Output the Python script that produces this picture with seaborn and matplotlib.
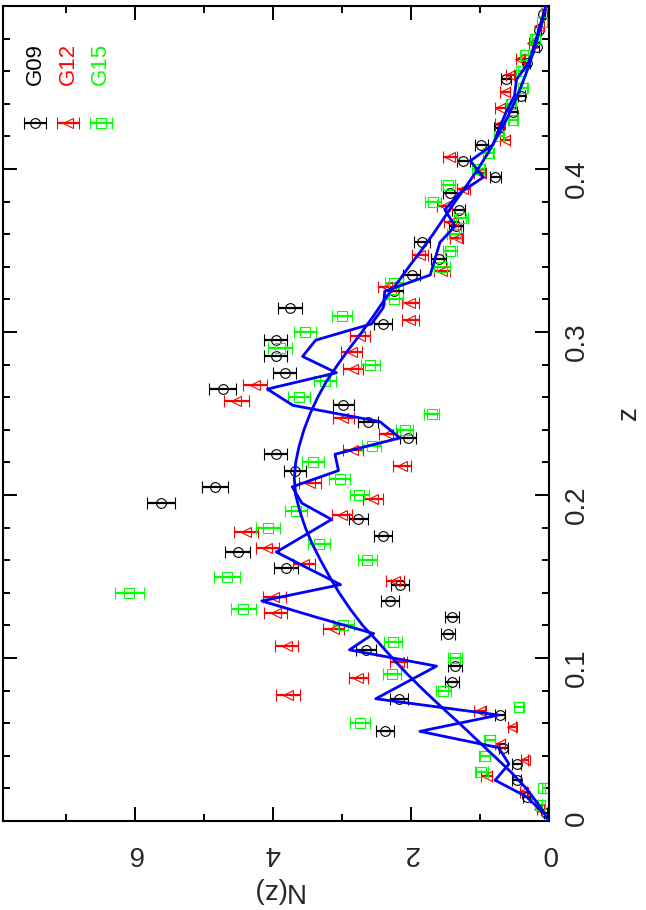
import numpy as np
import pandas as pd
import matplotlib
matplotlib.use("Agg")
import matplotlib.pyplot as plt
import seaborn as sns
from matplotlib.ticker import MultipleLocator, FixedLocator

# N(z) per GAMA field (bins of 0.01 in z)
fields = ["G09", "G12", "G15"]
g09_z = np.arange(50) * 0.01 + 0.005
g12_z = np.arange(50) * 0.01 + 0.0075
g15_z = np.arange(50) * 0.01 + 0.01

g09_n = [0.05, 0.32, 0.47, 0.47, 0.66, 2.38, 0.71, 2.17, 1.41, 1.36,
         2.65, 1.46, 1.40, 2.31, 2.16, 3.81, 4.51, 2.40, 2.76, 5.62,
         4.84, 3.68, 3.96, 2.04, 2.62, 2.98, 4.73, 3.83, 3.96, 3.96,
         2.40, 3.75, 2.25, 1.99, 1.60, 1.84, 1.35, 1.31, 1.43, 0.78,
         1.24, 0.98, 0.73, 0.52, 0.40, 0.62, 0.32, 0.18, 0.15, 0.08]
g09_err = [.02, .05, .06, .06, .07, .13, .07, .13, .10, .10,
           .14, .10, .10, .13, .13, .17, .18, .13, .14, .20,
           .19, .16, .17, .12, .14, .15, .19, .17, .17, .17,
           .13, .17, .13, .12, .11, .12, .10, .10, .10, .08,
           .10, .09, .07, .06, .05, .07, .05, .04, .03, .02]

g12_n = [0.15, 0.37, 0.90, 0.35, 0.71, 0.54, 1.00, 3.78, 2.76, 2.18,
         3.80, 3.12, 3.96, 3.98, 2.23, 3.55, 4.08, 4.39, 3.00, 2.55,
         3.46, 2.13, 2.84, 2.33, 2.98, 4.53, 4.26, 2.84, 2.86, 2.74,
         2.01, 2.01, 2.35, 1.55, 1.87, 1.34, 1.42, 1.51, 1.24, 1.00,
         1.43, 0.64, 0.71, 0.71, 0.64, 0.57, 0.42, 0.25, 0.15, 0.05]
g12_err = [.03, .05, .08, .05, .07, .06, .09, .17, .14, .13,
           .17, .15, .17, .17, .13, .16, .17, .18, .15, .14,
           .16, .13, .14, .13, .15, .18, .18, .14, .15, .14,
           .12, .12, .13, .11, .12, .10, .10, .11, .10, .09,
           .10, .07, .07, .07, .07, .06, .06, .04, .03, .02]

g15_n = [0.13, 0.08, 0.98, 0.93, 0.86, 2.74, 0.44, 1.53, 2.28, 1.36,
         2.26, 2.98, 4.43, 6.08, 4.66, 2.63, 3.33, 4.07, 3.66, 2.75,
         3.03, 3.42, 2.57, 2.09, 1.70, 3.62, 3.25, 2.59, 3.90, 3.54,
         3.00, 2.25, 2.25, 1.55, 1.43, 1.38, 1.27, 1.68, 1.46, 1.02,
         0.88, 0.73, 0.52, 0.55, 0.37, 0.40, 0.35, 0.20, 0.10, 0.05]
g15_err = [.03, .02, .09, .08, .08, .14, .06, .11, .13, .10,
           .13, .15, .18, .21, .19, .14, .16, .17, .16, .14,
           .15, .16, .14, .12, .11, .16, .16, .14, .17, .16,
           .15, .13, .13, .11, .10, .10, .10, .11, .10, .09,
           .08, .07, .06, .06, .05, .05, .05, .04, .03, .02]

# combined N(z) (jagged line) and smooth fit
comb_z = g09_z
comb_n = [0.08, 0.33, 0.78, 0.58, 0.73, 1.87, 0.73, 2.51, 2.07, 1.63,
          2.89, 2.54, 3.37, 4.16, 3.02, 3.49, 3.95, 3.55, 3.15, 3.58,
          3.72, 3.05, 3.10, 2.16, 2.45, 3.71, 4.08, 3.08, 3.57, 3.38,
          2.57, 2.40, 2.38, 1.72, 1.65, 1.58, 1.36, 1.51, 1.30, 0.95,
          1.14, 0.81, 0.72, 0.62, 0.50, 0.47, 0.30, 0.22, 0.15, 0.08]
fit_z = np.arange(51) * 0.01
fit_n = [0.00, 0.15, 0.33, 0.55, 0.80, 1.05, 1.30, 1.56, 1.81, 2.05,
         2.27, 2.48, 2.70, 2.88, 3.04, 3.18, 3.31, 3.43, 3.53, 3.61,
         3.67, 3.69, 3.67, 3.62, 3.55, 3.46, 3.35, 3.22, 3.06, 2.89,
         2.71, 2.54, 2.38, 2.20, 2.03, 1.85, 1.68, 1.52, 1.36, 1.19,
         1.03, 0.88, 0.75, 0.62, 0.51, 0.41, 0.32, 0.24, 0.17, 0.10,
         0.05]

sns.set_style("ticks")
plt.rcParams['font.family'] = ['Liberation Sans', 'DejaVu Sans']

fig = plt.figure(figsize=(6.46, 9.10), dpi=100)
ax = fig.add_axes([3/646, 1 - 821/910, 546/646, 815/910])

colors = ['#000000', '#ff0000', '#00ff00']
markers = ['o', '<', 's']
sizes = [7, 7.5, 6.5]
series = [(g09_z, g09_n, g09_err), (g12_z, g12_n, g12_err), (g15_z, g15_n, g15_err)]
for (z, n, e), name, c, m, s in zip(series, fields, colors, markers, sizes):
    ax.errorbar(n, z, xerr=e, fmt=m, color=c, mfc='none', mec=c, ms=s, mew=0.8,
                elinewidth=1.6, capsize=4, capthick=1.6, label=name, zorder=2)

sns.lineplot(data=pd.DataFrame({'n': comb_n, 'z': comb_z}), x='n', y='z', sort=False,
             estimator=None, color='#0000ff', lw=2, ax=ax, zorder=3)
sns.lineplot(data=pd.DataFrame({'n': fit_n, 'z': fit_z}), x='n', y='z', sort=False,
             estimator=None, color='#0000ff', lw=2, ax=ax, zorder=3)

ax.set_xlim(7.91, 0)
ax.set_ylim(0, 0.5)
ax.set_xticks([0, 2, 4, 6])
ax.set_xticklabels(['0', '2', '4', '6'])
ax.xaxis.set_minor_locator(FixedLocator([1, 3, 5, 7]))
ax.set_yticks([0, 0.1, 0.2, 0.3, 0.4])
ax.set_yticklabels(['0', '0.1', '0.2', '0.3', '0.4'])
ax.yaxis.set_minor_locator(MultipleLocator(0.02))

ax.tick_params(which='both', direction='in', top=True, bottom=True, left=True, right=True,
               width=1.4, color='black', labelsize=20)
ax.tick_params(which='major', length=10)
ax.tick_params(which='minor', length=5)
ax.tick_params(axis='y', labelleft=False, labelright=True, labelrotation=90, pad=11)
ax.tick_params(axis='x', labelrotation=180, pad=14)
for sp in ax.spines.values():
    sp.set_linewidth(1.5)
    sp.set_color('black')

ax.set_xlabel('N(z)', fontsize=20, rotation=180)
ax.xaxis.label.set_va('center')
ax.xaxis.set_label_coords(0.5, -0.0847)
ax.yaxis.set_label_position('right')
ax.set_ylabel('z', fontsize=20, rotation=90)
ax.yaxis.label.set_va('center')
ax.yaxis.set_label_coords(1.146, 0.5)

# legend: rotated names above the symbols
handles, labels = ax.get_legend_handles_labels()
ax.legend(handles, ['', '', ''], ncol=3, loc='center', bbox_to_anchor=(0.119, 0.854),
          frameon=False, handlelength=1.0, handletextpad=0, columnspacing=0.47,
          fontsize=16, borderpad=0, borderaxespad=0)
for x, name, c in zip([0.0586, 0.119, 0.178], fields, colors):
    ax.text(x, 0.929, name, transform=ax.transAxes, rotation=90, ha='center',
            va='center', color=c, fontsize=16)

fig.savefig('out.png', dpi=100)
